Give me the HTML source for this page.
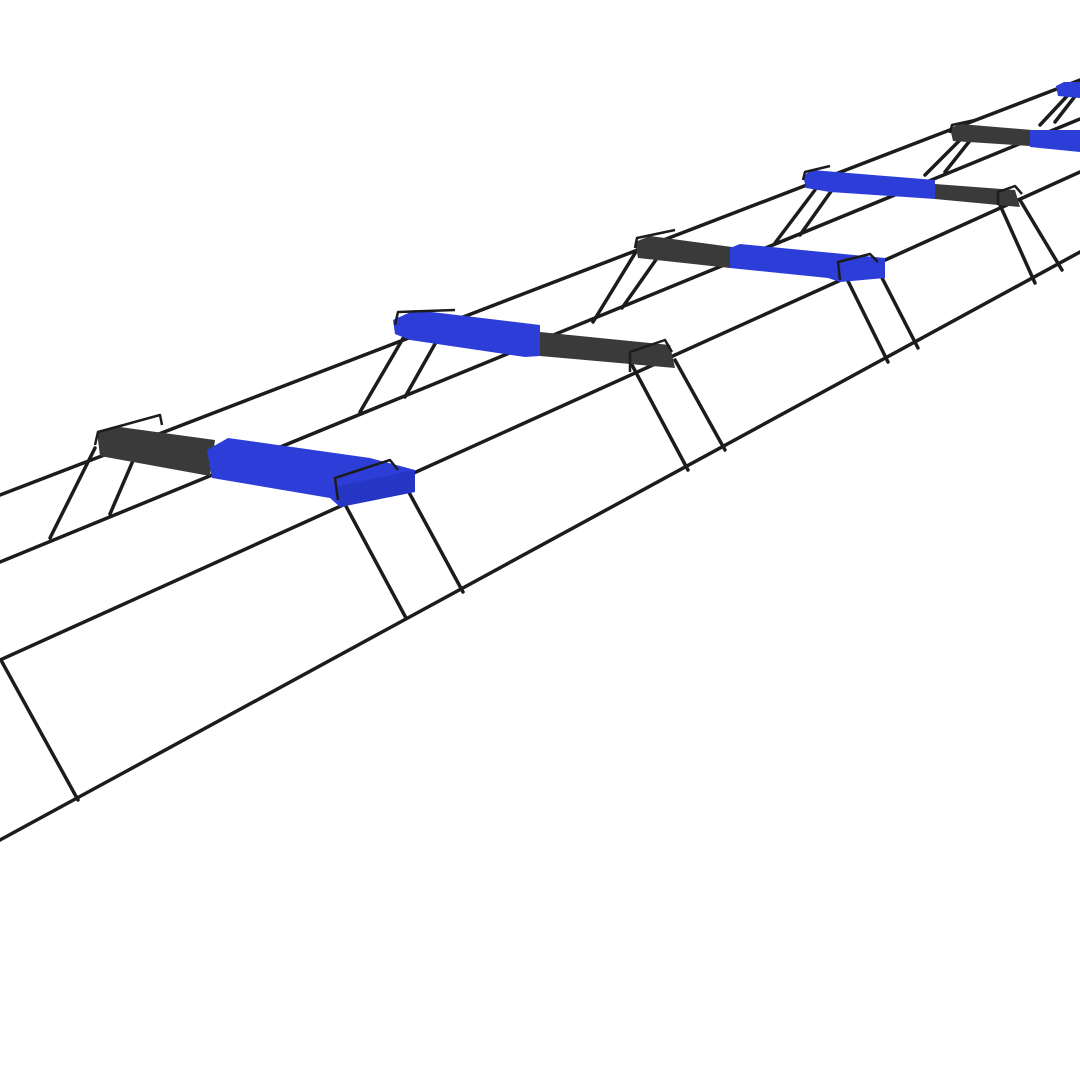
<!DOCTYPE html>
<html><head><meta charset="utf-8"><style>html,body{margin:0;padding:0;background:#fff}svg{display:block}</style></head>
<body>
<svg width="1080" height="1080" viewBox="0 0 1080 1080" xmlns="http://www.w3.org/2000/svg">
<rect width="1080" height="1080" fill="#fff"/>
<g stroke="#1c1c1c" stroke-width="3.5" stroke-linecap="round" fill="none">
  <line x1="0" y1="495" x2="1080" y2="80"/>
  <line x1="0" y1="562" x2="1080" y2="119"/>
  <line x1="0" y1="660" x2="1080" y2="172"/>
  <line x1="0" y1="840" x2="1080" y2="252"/>
  <line x1="2" y1="662" x2="78" y2="800"/>
  <line x1="95" y1="448" x2="50" y2="538"/>
  <line x1="135" y1="456" x2="110" y2="514"/>
  <line x1="340" y1="495" x2="406" y2="618"/>
  <line x1="405" y1="485" x2="463" y2="592"/>
  <line x1="405" y1="335" x2="360" y2="412"/>
  <line x1="440" y1="335" x2="405" y2="397"/>
  <line x1="632" y1="365" x2="688" y2="470"/>
  <line x1="675" y1="360" x2="725" y2="450"/>
  <line x1="637" y1="250" x2="593" y2="322"/>
  <line x1="660" y1="254" x2="622" y2="308"/>
  <line x1="845" y1="275" x2="888" y2="362"/>
  <line x1="878" y1="270" x2="918" y2="348"/>
  <line x1="815" y1="190" x2="775" y2="243"/>
  <line x1="832" y1="190" x2="800" y2="235"/>
  <line x1="1000" y1="205" x2="1035" y2="283"/>
  <line x1="1020" y1="200" x2="1062" y2="270"/>
  <line x1="962" y1="138" x2="925" y2="175"/>
  <line x1="972" y1="138" x2="945" y2="172"/>
  <line x1="1068" y1="95" x2="1040" y2="125"/>
  <line x1="1076" y1="95" x2="1055" y2="122"/>
</g>
<g stroke="none">
  <!-- S1 -->
  <polygon points="97,432 120,427 215,440 210,476 100,456" fill="#3a3a3a"/>
  <polygon points="207,450 228,438 370,458 415,470 415,492 340,507 330,498 212,478" fill="#2d3ed8"/>
  <polygon points="338,486 415,470 415,492 340,507" fill="#2536c4"/>
  <!-- S2 -->
  <polygon points="393,320 415,310 540,325 540,356 525,357 410,340 395,334" fill="#2d3ed8"/>
  <polygon points="540,332 670,345 675,368 540,356" fill="#3a3a3a"/>
  <!-- S3 -->
  <polygon points="635,242 650,236 732,247 730,268 638,258" fill="#3a3a3a"/>
  <polygon points="730,248 740,244 885,258 885,278 840,282 828,278 730,268" fill="#2d3ed8"/>
  <!-- S4 -->
  <polygon points="803,176 812,170 935,180 935,199 830,192 806,188" fill="#2d3ed8"/>
  <polygon points="935,184 1015,190 1020,207 935,199" fill="#3a3a3a"/>
  <!-- S5 -->
  <polygon points="950,128 960,124 1032,130 1030,146 953,141" fill="#3a3a3a"/>
  <polygon points="1030,130 1080,130 1080,152 1030,147" fill="#2d3ed8"/>
  <!-- S6 -->
  <polygon points="1056,86 1064,82 1080,82 1080,98 1058,96" fill="#2d3ed8"/>
</g>
<g stroke="#1c1c1c" stroke-width="2.5" fill="none" stroke-linejoin="round">
  <polyline points="95,445 98,432 160,415 162,425"/>
  <polyline points="338,500 335,478 390,460 398,470"/>
  <polyline points="395,325 398,312 455,310"/>
  <polyline points="630,372 630,352 665,340 672,352"/>
  <polyline points="635,248 637,238 675,230"/>
  <polyline points="840,280 838,262 870,254 878,262"/>
  <polyline points="803,180 805,172 830,166"/>
  <polyline points="998,205 998,192 1015,186 1022,194"/>
  <polyline points="950,133 952,125 975,120"/>
</g>
</svg>
</body></html>
